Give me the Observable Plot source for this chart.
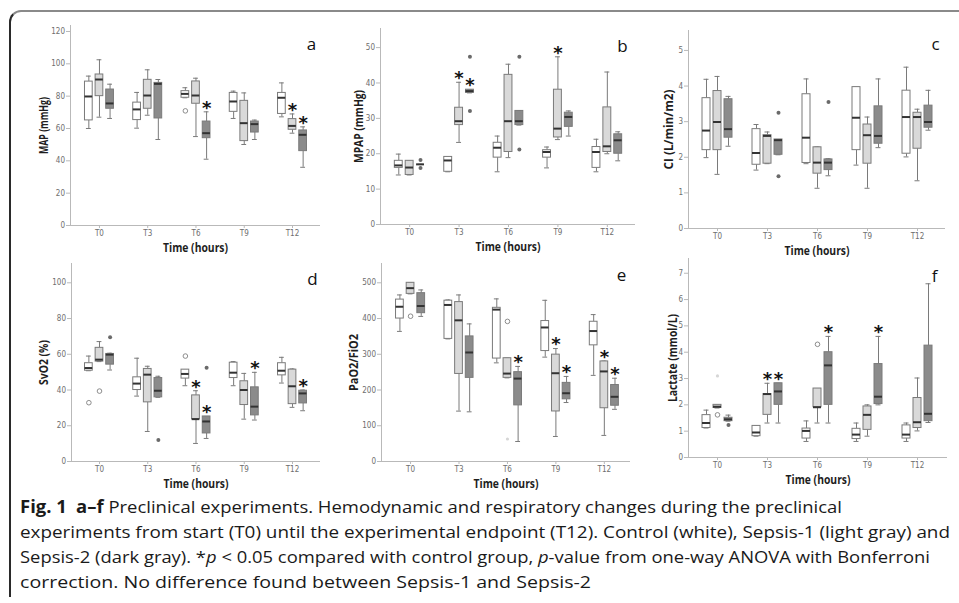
<!DOCTYPE html>
<html><head><meta charset="utf-8">
<script src="https://cdn.jsdelivr.net/npm/d3@7"></script>
<script src="https://cdn.jsdelivr.net/npm/@observablehq/plot@0.6"></script>
<style>
html,body{margin:0;padding:0;background:#fff;}
#root{position:relative;width:959px;height:603px;overflow:hidden;background:#fff;}
#frame{position:absolute;left:9px;top:10px;width:1000px;height:585px;border-left:2px solid #2a2a2a;border-top:2px solid #8a8a8a;border-top-left-radius:12px;}
.panel{position:absolute;}
.panel svg{overflow:visible;}
#caption{position:absolute;left:0;top:490px;}
</style>
</head><body>
<div id="root"><div id="frame"></div></div>
<script>
// ---------- shared categories ----------
const times = ["T0", "T3", "T6", "T9", "T12"];
const groups = ["Control", "Sepsis-1", "Sepsis-2"];
const groupFills = ["#ffffff", "#d9d9d9", "#8b8b8b"];

// each row: [whisker low, Q1, median, Q3, whisker high] for T0..T12
// ---------- a: MAP ----------
const mapControl = [[60,65,79.8,89,92.4],[60.2,65.2,71.8,76,82.3],[79,79,81.4,83.1,85.2],[66.2,70.3,76.7,82,83.1],[67.2,69,79,82,88.2]];
const mapSepsis1 = [[67,80,90.3,93.4,102.5],[68.2,72.2,80.4,90.1,96.3],[55,75.3,80.4,89.1,91.1],[50.1,52.2,63.3,77.1,82],[57.1,59.2,61.6,65.8,69]];
const mapSepsis2 = [[66.2,72.2,75.5,84.1,87.4],[53.2,66.2,87.6,88.2,90.3],[41,54,57.1,64.3,70.3],[53.2,57.5,62.7,64.3,65.2],[36,46,56.1,58.8,61]];
const mapOutliers = [["T6","Control",70.9,"open"]];
const mapStars = [["T6","Sepsis-2"],["T12","Sepsis-1"],["T12","Sepsis-2"]];
const mapTicks = [0,20,40,60,80,100,120];

// ---------- b: MPAP ----------
const mpapControl = [[14,16,16.7,18,19.9],[14.9,14.9,18.1,19.1,19.1],[14.9,18.9,21.7,23.1,25],[16,18.9,20.5,21,21.9],[14.9,16,20.5,21.9,24.1]];
const mpapSepsis1 = [[14,14,16.1,18,18],[23.2,28.1,29.2,33,40.2],[18.9,20.5,29.2,42.3,45.3],[24,24.6,27.1,38.1,47.4],[20,20.5,22.1,33.1,43.1]];
const mpapSepsis2 = [[17,17,17,17,17],[37.2,37.2,37.7,38.1,38.1],[28.1,28.1,29.2,32.1,32.1],[25,27.6,30.4,31.6,32.1],[18,20,23.8,25.5,26.2]];
const mpapOutliers = [["T0","Sepsis-2",18.2,"dot"],["T0","Sepsis-2",16,"dot"],["T3","Sepsis-2",47.4,"dot"],["T3","Sepsis-2",32.1,"dot"],["T6","Sepsis-2",47.4,"dot"],["T6","Sepsis-2",21.2,"dot"]];
const mpapStars = [["T3","Sepsis-1"],["T3","Sepsis-2"],["T9","Sepsis-1"]];
const mpapTicks = [0,10,20,30,40,50];

// ---------- c: CI ----------
const ciControl = [[1.99,2.2,2.75,3.66,4.19],[1.64,1.79,2.12,2.79,2.92],[1.82,1.84,2.55,3.77,4.2],[1.78,2.2,3.11,3.97,3.97],[2.01,2.1,3.13,3.87,4.53]];
const ciSepsis1 = [[1.52,2.2,2.99,3.86,4.27],[1.82,1.82,2.6,2.62,2.71],[1.13,1.54,1.85,2.28,2.29],[1.13,1.82,2.62,2.92,3.13],[1.34,2.24,3.13,3.25,3.35]];
const ciSepsis2 = [[2.31,2.55,2.79,3.63,3.71],[2.07,2.07,2.48,2.5,2.5],[1.48,1.64,1.85,1.94,1.96],[2.27,2.38,2.6,3.43,4.2],[2.76,2.83,2.99,3.45,3.88]];
const ciOutliers = [["T3","Sepsis-2",3.25,"dot"],["T3","Sepsis-2",1.47,"dot"],["T6","Sepsis-2",3.55,"dot"]];
const ciStars = [];
const ciTicks = [0,1,2,3,4,5];

// ---------- d: SvO2 ----------
const svoControl = [[50.8,50.8,52.3,55,59],[36.6,40,43.6,47.1,57.8],[42.4,46.4,49,51.4,51.4],[42.4,46.7,49.7,55.3,55.9],[43.9,48.2,50.8,55,58.3]];
const svoSepsis1 = [[55.9,55.9,57,63.6,67.1],[16.8,33.1,48.6,51.8,53.3],[10.1,23.7,23.7,37,39.6],[23.7,31.6,40,44.9,49.3],[30.3,32.1,42.1,51.4,51.8]];
const svoSepsis2 = [[51.2,54.2,59.8,60.2,60.6],[35.9,35.9,39.6,46.7,47.7],[12.9,15.7,22.4,25.2,25.2],[23.2,25.8,30.7,41.5,49.9],[28.4,32.5,38.1,39.6,40]];
const svoOutliers = [["T0","Control",32.9,"open"],["T0","Sepsis-1",39.4,"open"],["T0","Sepsis-2",69.5,"dot"],["T3","Sepsis-2",12,"dot"],["T6","Control",59,"open"],["T6","Sepsis-2",52.5,"dot"]];
const svoStars = [["T6","Sepsis-1"],["T6","Sepsis-2"],["T9","Sepsis-2"],["T12","Sepsis-2"]];
const svoTicks = [0,20,40,60,80,100];

// ---------- e: PaO2/FiO2 ----------
const pfControl = [[364,400,433,453,466],[343,343,438,450,452],[276,288,425,430,455],[292,309,375,393,451],[241,325,365,391,411]];
const pfSepsis1 = [[469,469,485,500,500],[141,245,395,446,466],[234,234,246,289,289],[70,140,247,299,316],[73,149,252,280,281]];
const pfSepsis2 = [[406,415,435,471,480],[139,234,305,350,385],[56,157,232,250,266],[165,174,191,220,238],[146,156,181,214,233]];
const pfOutliers = [["T0","Sepsis-1",406.5,"open"],["T6","Sepsis-1",392,"open"],["T6","Sepsis-1",63,"faint"]];
const pfStars = [["T6","Sepsis-2"],["T9","Sepsis-1"],["T9","Sepsis-2"],["T12","Sepsis-1"],["T12","Sepsis-2"]];
const pfTicks = [0,100,200,300,400,500];

// ---------- f: Lactate ----------
const lacControl = [[1.12,1.12,1.31,1.61,1.8],[0.81,0.81,0.95,1.2,1.2],[0.61,0.72,1.01,1.1,1.39],[0.61,0.7,0.87,1.09,1.31],[0.61,0.72,0.87,1.22,1.31]];
const lacSepsis1 = [[1.88,1.88,1.93,2.0,2.0],[1.31,1.62,2.41,2.41,2.82],[1.31,1.91,1.91,2.62,2.62],[0.81,1.05,1.62,1.94,2.0],[1.01,1.12,1.34,2.26,3.02]];
const lacSepsis2 = [[1.38,1.38,1.45,1.51,1.61],[1.31,2.0,2.51,2.82,2.82],[1.31,2.0,3.5,4.0,4.6],[2.0,2.03,2.31,3.55,4.6],[1.33,1.38,1.66,4.25,6.6]];
const lacOutliers = [["T0","Sepsis-1",1.62,"open"],["T0","Sepsis-1",3.1,"faint"],["T0","Sepsis-2",1.23,"dot"],["T6","Sepsis-1",4.3,"open"]];
const lacStars = [["T3","Sepsis-1"],["T3","Sepsis-2"],["T6","Sepsis-2"],["T9","Sepsis-2"]];
const lacTicks = [0,1,2,3,4,5,6,7];

// ---------- layout (positions only) ----------
const panels = [
  {letter:"a", label:"MAP (mmHg)", series:[mapControl,mapSepsis1,mapSepsis2], outliers:mapOutliers, stars:mapStars, ticks:mapTicks,
   left:0, top:0, width:330, height:258, mL:70, mR:10, mT:25, mB:33, xdom:[-0.6,4.58], ydom:[0,123.7], labDx:-27, labLen:57, letDx:-9, letDy:19},
  {letter:"b", label:"MPAP (mmHg)", series:[mpapControl,mpapSepsis1,mpapSepsis2], outliers:mpapOutliers, stars:mpapStars, ticks:mpapTicks,
   left:320, top:0, width:330, height:258, mL:60, mR:15, mT:28, mB:34, xdom:[-0.59,4.57], ydom:[0,55.4], labDx:-22, labLen:73, letDx:-13, letDy:18},
  {letter:"c", label:"CI (L/min/m2)", series:[ciControl,ciSepsis1,ciSepsis2], outliers:ciOutliers, stars:ciStars, ticks:ciTicks,
   left:640, top:0, width:319, height:258, mL:48, mR:14, mT:30, mB:30, xdom:[-0.58,4.56], ydom:[0,5.56], labDx:-20, labLen:80, letDx:-10, letDy:14},
  {letter:"d", label:"SvO2 (%)", series:[svoControl,svoSepsis1,svoSepsis2], outliers:svoOutliers, stars:svoStars, ticks:svoTicks,
   left:0, top:256, width:330, height:244, mL:71, mR:10, mT:7, mB:39, xdom:[-0.58,4.58], ydom:[0,110.8], labDx:-28, labLen:45, letDx:-8, letDy:16},
  {letter:"e", label:"PaO2/FiO2", series:[pfControl,pfSepsis1,pfSepsis2], outliers:pfOutliers, stars:pfStars, ticks:pfTicks,
   left:320, top:256, width:330, height:244, mL:61, mR:20, mT:7, mB:39, xdom:[-0.6,4.54], ydom:[0,554], labDx:-28, labLen:57, letDx:-9, letDy:12},
  {letter:"f", label:"Lactate (mmol/L)", series:[lacControl,lacSepsis1,lacSepsis2], outliers:lacOutliers, stars:lacStars, ticks:lacTicks,
   left:640, top:256, width:319, height:244, mL:48, mR:12, mT:2, mB:43, xdom:[-0.58,4.6], ydom:[0,7.56], labDx:-16, labLen:88, letDx:-13, letDy:18}
];
const timeTitle = "Time (hours)";
const timeTitleLen = 65;

const OFF = 0.22, HALF = 0.08, CAP = 0.05;
const AXIS = "#b9b9b9", TICKTXT = "#6e6e6e", EDGE = "#7a7a7a";
const FONT = "'Liberation Sans Narrow','DejaVu Sans Condensed','Roboto Condensed','Liberation Sans',sans-serif";
const LABFONT = "'Open Sans','Noto Sans',sans-serif";
const xc = d => times.indexOf(d.t) + (groups.indexOf(d.g) - 1) * OFF;

const root = document.getElementById("root");
for (const p of panels) {
  const rows = [];
  p.series.forEach((arr, gi) => arr.forEach((s, ti) => rows.push({t: times[ti], g: groups[gi], min: s[0], q1: s[1], med: s[2], q3: s[3], max: s[4]})));
  const out = p.outliers.map(([t, g, v, k]) => ({t, g, v, k}));
  const stars = p.stars.map(([t, g]) => rows.find(r => r.t === t && r.g === g));
  const svg = Plot.plot({
    width: p.width, height: p.height,
    marginLeft: p.mL, marginRight: p.mR, marginTop: p.mT, marginBottom: p.mB,
    style: {background: "none", fontFamily: FONT, overflow: "visible"},
    x: {type: "linear", domain: p.xdom, axis: null},
    y: {domain: p.ydom, axis: null},
    color: {type: "ordinal", domain: groups, range: groupFills},
    marks: [
      Plot.axisY({ticks: p.ticks, tickSize: 4, tickPadding: 1.5, fontSize: 8, stroke: AXIS, fill: TICKTXT, label: null, tickFormat: d => String(d)}),
      Plot.axisX({ticks: [0,1,2,3,4], tickFormat: i => times[i], tickSize: 3, tickPadding: 2, fontSize: 8, stroke: AXIS, fill: TICKTXT, label: null}),
      Plot.ruleX([p.xdom[0]], {stroke: AXIS}),
      Plot.ruleY([0], {stroke: AXIS}),
      // whiskers
      Plot.ruleX(rows, {x: xc, y1: "min", y2: "q1", stroke: EDGE}),
      Plot.ruleX(rows, {x: xc, y1: "q3", y2: "max", stroke: EDGE}),
      Plot.ruleY(rows, {y: "min", x1: d => xc(d) - CAP, x2: d => xc(d) + CAP, stroke: EDGE}),
      Plot.ruleY(rows, {y: "max", x1: d => xc(d) - CAP, x2: d => xc(d) + CAP, stroke: EDGE}),
      // boxes
      Plot.rectY(rows, {x1: d => xc(d) - HALF, x2: d => xc(d) + HALF, y1: "q1", y2: "q3", fill: "g", stroke: EDGE, strokeWidth: 1}),
      Plot.ruleY(rows, {y: "med", x1: d => xc(d) - HALF, x2: d => xc(d) + HALF, stroke: "#333", strokeWidth: 2}),
      // outliers
      Plot.dot(out.filter(d => d.k === "open"), {x: xc, y: "v", r: 2.3, fill: "white", stroke: "#808080", strokeWidth: 0.9}),
      Plot.dot(out.filter(d => d.k === "dot"), {x: xc, y: "v", r: 2, fill: "#6a6a6a", stroke: "none"}),
      Plot.dot(out.filter(d => d.k === "faint"), {x: xc, y: "v", r: 1.6, fill: "#d6d6d6", stroke: "none"}),
      // significance
      Plot.text(stars, {x: xc, y: "max", text: () => "*", dy: -4, fontSize: 18, fontWeight: "bold", fill: "#111", fontFamily: "'DejaVu Sans',sans-serif"}),
      // labels
      Plot.text([p.label], {text: d => d, frameAnchor: "left", textAnchor: "middle", lineAnchor: "middle", rotate: -90, dx: p.labDx, fontSize: 13, fontWeight: "bold", fill: "#1e1e1e", fontFamily: LABFONT}),
      Plot.text([timeTitle], {text: d => d, frameAnchor: "bottom", textAnchor: "middle", lineAnchor: "middle", dy: 22, fontSize: 13, fontWeight: "bold", fill: "#1e1e1e", fontFamily: LABFONT}),
      Plot.text([p.letter], {text: d => d, frameAnchor: "top-right", textAnchor: "middle", lineAnchor: "middle", dx: p.letDx, dy: p.letDy, fontSize: 17, fill: "#111", fontFamily: LABFONT})
    ]
  });
  // condense the axis titles to the reference's narrow type
  svg.querySelectorAll("text").forEach(t => {
    if (t.textContent === p.label) { t.setAttribute("textLength", p.labLen); t.setAttribute("lengthAdjust", "spacingAndGlyphs"); }
    if (t.textContent === timeTitle) { t.setAttribute("textLength", timeTitleLen); t.setAttribute("lengthAdjust", "spacingAndGlyphs"); }
  });
  const holder = document.createElement("div");
  holder.className = "panel";
  holder.style.left = p.left + "px";
  holder.style.top = p.top + "px";
  holder.style.width = p.width + "px";
  holder.appendChild(svg);
  root.appendChild(holder);
}

// ---------- caption ----------
const captionLines = [
  [["b","Fig. 1"],["n","\u2002"],["b","a\u2013f"],["n"," Preclinical experiments. Hemodynamic and respiratory changes during the preclinical"]],
  [["n","experiments from start (T0) until the experimental endpoint (T12). Control (white), Sepsis-1 (light gray) and"]],
  [["n","Sepsis-2 (dark gray). *"],["i","p"],["n"," < 0.05 compared with control group, "],["i","p"],["n","-value from one-way ANOVA with Bonferroni"]],
  [["n","correction. No difference found between Sepsis-1 and Sepsis-2"]]
];
const captionWidths = [822, 930, 910, 571];
const NS = "http://www.w3.org/2000/svg";
const cap = document.createElementNS(NS, "svg");
cap.setAttribute("id", "caption");
cap.setAttribute("width", 959);
cap.setAttribute("height", 113);
captionLines.forEach((line, i) => {
  const t = document.createElementNS(NS, "text");
  t.setAttribute("x", 20);
  t.setAttribute("y", 23 + i * 25);
  t.setAttribute("textLength", captionWidths[i]);
  t.setAttribute("lengthAdjust", "spacingAndGlyphs");
  t.setAttribute("font-family", "'Open Sans','Noto Sans',sans-serif");
  t.setAttribute("font-size", "17");
  t.setAttribute("fill", "#1a1a1a");
  for (const [kind, str] of line) {
    const s = document.createElementNS(NS, "tspan");
    if (kind === "b") s.setAttribute("font-weight", "bold");
    if (kind === "i") s.setAttribute("font-style", "italic");
    s.textContent = str;
    t.appendChild(s);
  }
  cap.appendChild(t);
});
root.appendChild(cap);
</script>
</body></html>
